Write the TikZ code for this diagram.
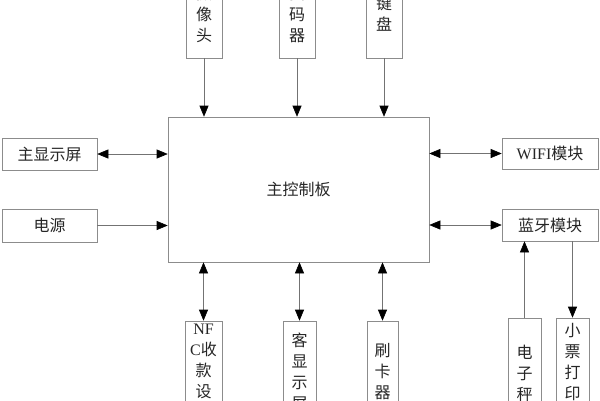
\documentclass[tikz,border=0pt]{standalone}
\usepackage{fontspec}
\setmainfont{Liberation Serif}
\newfontfamily\cjk{Noto Sans CJK SC}
\usetikzlibrary{arrows.meta}

\begin{document}
\begin{tikzpicture}[x=1pt, y=-1pt,
                    >={Triangle[length=11pt,width=9pt,color=black]},
                    font=\fontsize{16}{21}\selectfont\cjk,
                    box/.style={draw=black!45, line width=0.6pt, text=black!85, inner sep=0pt, align=center},
                    link/.style={draw=black!55, line width=0.6pt}]
                    \clip (0,0) rectangle (600,400);

                    % Main board
                    \node[box, minimum width=261pt, minimum height=145pt] (main) at (298.5,189.5) {主控制板};

                    % Inputs on top
                    \node[box, minimum width=36pt, minimum height=88pt] (cam) at (204,14) {摄\\像\\头};
                    \node[box, minimum width=36pt, minimum height=88pt] (scan) at (297,14) {扫\\码\\器};
                    \node[box, minimum width=36pt, minimum height=88pt] (kbd) at (384,14) {键\\盘};

                    % Left side
                    \node[box, minimum width=95pt, minimum height=32pt] (disp) at (49.5,154) {主显示屏};
                    \node[box, minimum width=95pt, minimum height=33pt] (power) at (49.5,225.5) {电源};

                    % Right side
                    \node[box, minimum width=96pt, minimum height=31pt] (wifi) at (550,153.5) {{\rmfamily WIFI}模块};
                    \node[box, minimum width=96pt, minimum height=32pt] (bt) at (550,225) {蓝牙模块};

                    % Below the board
                    \node[box, minimum width=37pt, minimum height=102pt] (nfc) at (203.5,372) {{\rmfamily NF}\\{\rmfamily C}收\\款\\设\\备};
                    \node[box, minimum width=33pt, minimum height=102pt] (cust) at (299.5,372) {客\\显\\示\\屏};
                    \node[box, minimum width=31pt, minimum height=102pt] (card) at (382.5,372) {刷\\卡\\器};

                    % Below the bluetooth module
                    \node[box, minimum width=33pt, minimum height=110pt] (scale) at (524.5,373) {电\\子\\秤};
                    \node[box, minimum width=33pt, minimum height=110pt] (printer) at (572.5,373) {小\\票\\打\\印\\机};

                    % Connections
                    \foreach \n in {cam,scan,kbd}
                    {
                        \draw[link, ->] (\n) -- (\n |- main.north);
                    }
                    \foreach \n in {nfc,cust,card}
                    {
                        \draw[link, <->] (\n.north |- main.south) -- (\n.north);
                    }
                    \draw[link, <->] (disp.east) -- (disp.east -| main.west);
                    \draw[link, ->] (power.east) -- (power.east -| main.west);
                    \draw[link, <->] (wifi.west -| main.east) -- (wifi.west);
                    \draw[link, <->] (bt.west -| main.east) -- (bt.west);
                    \draw[link, ->] (scale.north) -- (scale.north |- bt.south);
                    \draw[link, ->] (printer.north |- bt.south) -- (printer.north);
                \end{tikzpicture}
\end{document}
